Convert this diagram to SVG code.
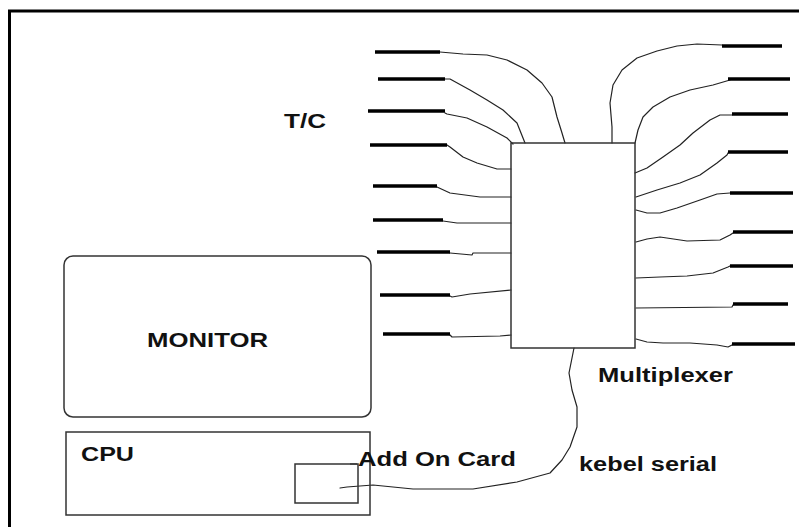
<svg xmlns="http://www.w3.org/2000/svg" width="799" height="527" viewBox="0 0 799 527">
<style>
.lbl{font-family:"Liberation Sans",Arial,sans-serif;font-size:20px;font-weight:bold;fill:#111}
.box{fill:#fff;stroke:#333;stroke-width:1.5}
.probe{stroke:#000;stroke-width:3.5;stroke-linecap:butt}
.wire{fill:none;stroke:#222;stroke-width:1.2;stroke-linejoin:round;stroke-linecap:round}
.frame{stroke:#000;stroke-width:3;fill:none}
</style>
<rect width="799" height="527" fill="#fff"/>
<path class="frame" d="M9.5,527 V11 H799"/>

<g id="connectors">
  <!-- left wires -->
  <polyline class="wire" points="440,52 463,54 487,55 507,60 527,70 542,83 552,97 557,117 562,133 565,143"/>
  <polyline class="wire" points="445,79 450,79 470,90 487,100 503,110 517,123 525,143"/>
  <polyline class="wire" points="445,113 447,114 467,118 487,127 507,138 513,144"/>
  <polyline class="wire" points="447,145 450,147 463,157 477,163 497,169 511,169"/>
  <polyline class="wire" points="437,187 450,193 480,197 511,197"/>
  <polyline class="wire" points="443,221 457,223 511,223"/>
  <polyline class="wire" points="450,253 472,255 473,253 511,253"/>
  <polyline class="wire" points="450,296 452,297 470,294 511,290"/>
  <polyline class="wire" points="450,335 452,337 500,336 511,335"/>
  <!-- right wires -->
  <polyline class="wire" points="722,45 697,44 677,46 657,51 637,58 622,70 613,85 610,103 612,127 612,143"/>
  <polyline class="wire" points="730,80 713,85 690,90 670,97 653,107 643,117 638,130 635,143"/>
  <polyline class="wire" points="732,115 720,115 710,120 693,133 680,145 663,157 647,168 635,173"/>
  <polyline class="wire" points="728,153 727,155 717,163 700,175 680,183 657,190 636,197"/>
  <polyline class="wire" points="730,193 717,194 700,200 677,208 660,213 647,213 636,210"/>
  <polyline class="wire" points="733,233 730,235 720,240 687,241 660,237 647,239 636,242"/>
  <polyline class="wire" points="730,266 728,267 713,273 687,276 660,277 636,278"/>
  <polyline class="wire" points="733,305 732,307 636,308"/>
  <polyline class="wire" points="732,345 728,347 717,345 690,343 663,343 647,342 636,339"/>
  <!-- serial cable -->
  <polyline class="wire" points="340,488 347,487 373,485 413,489 473,489 517,482 550,473 562,460 570,447 577,427 577,407 572,390 569,373 573,353 574,348"/>
</g>

<g id="thermocouples">
  <line class="probe" x1="375" y1="52" x2="440" y2="52"/>
  <line class="probe" x1="378" y1="79" x2="445" y2="79"/>
  <line class="probe" x1="368" y1="111" x2="445" y2="111"/>
  <line class="probe" x1="370" y1="145" x2="447" y2="145"/>
  <line class="probe" x1="373" y1="186" x2="437" y2="186"/>
  <line class="probe" x1="373" y1="220" x2="443" y2="220"/>
  <line class="probe" x1="377" y1="252" x2="450" y2="252"/>
  <line class="probe" x1="380" y1="295" x2="450" y2="295"/>
  <line class="probe" x1="383" y1="334" x2="450" y2="334"/>
  <line class="probe" x1="722" y1="46" x2="782" y2="46"/>
  <line class="probe" x1="728" y1="79" x2="790" y2="79"/>
  <line class="probe" x1="732" y1="114" x2="788" y2="114"/>
  <line class="probe" x1="728" y1="152" x2="788" y2="152"/>
  <line class="probe" x1="730" y1="193" x2="793" y2="193"/>
  <line class="probe" x1="733" y1="232" x2="793" y2="232"/>
  <line class="probe" x1="730" y1="266" x2="793" y2="266"/>
  <line class="probe" x1="733" y1="304" x2="788" y2="304"/>
  <line class="probe" x1="732" y1="344" x2="795" y2="344"/>
</g>

<g id="tc-label">
  <text class="lbl" x="284" y="128" textLength="42" lengthAdjust="spacingAndGlyphs">T/C</text>
</g>

<g id="multiplexer">
  <rect class="box" x="511" y="143" width="124" height="205" fill="none" style="fill:none"/>
  <text class="lbl" x="598" y="382" textLength="135" lengthAdjust="spacingAndGlyphs">Multiplexer</text>
</g>

<g id="monitor">
  <rect class="box" x="64" y="256" width="307" height="161" rx="9" ry="9" style="fill:none"/>
  <text class="lbl" x="147" y="347" textLength="121" lengthAdjust="spacingAndGlyphs">MONITOR</text>
</g>

<g id="cpu">
  <rect class="box" x="66" y="432" width="304" height="83" style="fill:none"/>
  <text class="lbl" x="81" y="461" textLength="53" lengthAdjust="spacingAndGlyphs">CPU</text>
</g>

<g id="addon-card">
  <rect class="box" x="295" y="464" width="63" height="39" style="fill:none"/>
  <line x1="350" y1="464" x2="357" y2="464" stroke="#333" stroke-width="1.2"/>
  <text class="lbl" x="358" y="466" textLength="158" lengthAdjust="spacingAndGlyphs">Add On Card</text>
</g>

<g id="cable-label">
  <text class="lbl" x="579" y="471" textLength="138" lengthAdjust="spacingAndGlyphs">kebel serial</text>
</g>
</svg>
